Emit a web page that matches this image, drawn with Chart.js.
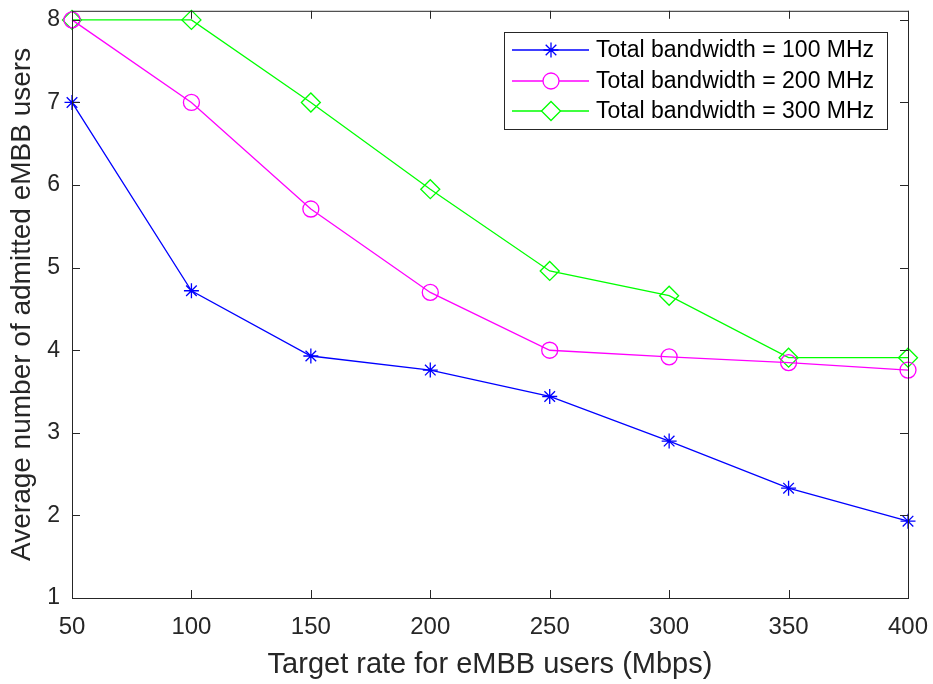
<!DOCTYPE html>
<html>
<head>
<meta charset="utf-8">
<script src="https://cdn.jsdelivr.net/npm/chart.js@4"></script>
<style>
  html, body { margin: 0; padding: 0; background: #fff; }
  #wrap { width: 933px; height: 684px; }
</style>
</head>
<body>
<div id="wrap"><canvas id="chart" width="933" height="684"></canvas></div>
<script>
// --- dados ---
const targetRates = [50, 100, 150, 200, 250, 300, 350, 400];
const bw100 = [7.0, 4.72, 3.93, 3.76, 3.44, 2.90, 2.33, 1.93];
const bw200 = [8.0, 7.0, 5.71, 4.70, 4.0, 3.92, 3.85, 3.76];
const bw300 = [8.0, 8.0, 7.0, 5.95, 4.96, 4.66, 3.91, 3.91];
const seriesNames = ['Total bandwidth = 100 MHz', 'Total bandwidth = 200 MHz', 'Total bandwidth = 300 MHz'];
const xTicks = [50, 100, 150, 200, 250, 300, 350, 400];
const yTicks = [1, 2, 3, 4, 5, 6, 7, 8];

const axisColor = '#262626';
const fontFamily = '"Liberation Sans", Arial, Helvetica, sans-serif';

function toPoints(values) {
    return targetRates.map((x, i) => ({ x: x, y: values[i] }));
}

// estilo de cada série (cor + marcador)
const styles = [
    { color: '#0000ff', marker: 'star', radius: 7.5 },
    { color: '#ff00ff', marker: 'circle', radius: 8 },
    { color: '#00ff00', marker: 'rectRot', radius: 9.5 }
];

const datasets = [bw100, bw200, bw300].map((vals, i) => ({
    label: seriesNames[i],
    data: toPoints(vals),
    borderColor: styles[i].color,
    backgroundColor: 'rgba(0,0,0,0)',
    borderWidth: 1.3,
    pointStyle: styles[i].marker,
    pointRadius: styles[i].radius,
    pointBorderWidth: 1.3,
    pointBorderColor: styles[i].color,
    pointBackgroundColor: 'rgba(0,0,0,0)',
    clip: false,
    tension: 0
}));

// caixa dos eixos com ticks para dentro (estilo MATLAB)
const boxPlugin = {
    id: 'matlabBox',
    afterDraw(chart) {
        const ctx = chart.ctx;
        const a = chart.chartArea;
        const xs = chart.scales.x, ys = chart.scales.y;
        const tick = 8;
        ctx.save();
        ctx.strokeStyle = axisColor;
        ctx.lineWidth = 1;
        ctx.strokeRect(a.left + 0.5, a.top + 0.5, a.right - a.left, a.bottom - a.top);
        ctx.beginPath();
        xTicks.forEach(v => {
            const px = Math.round(xs.getPixelForValue(v)) + 0.5;
            ctx.moveTo(px, a.bottom); ctx.lineTo(px, a.bottom - tick);
            ctx.moveTo(px, a.top); ctx.lineTo(px, a.top + tick);
        });
        yTicks.forEach(v => {
            const py = Math.round(ys.getPixelForValue(v)) + 0.5;
            ctx.moveTo(a.left, py); ctx.lineTo(a.left + tick, py);
            ctx.moveTo(a.right, py); ctx.lineTo(a.right - tick, py);
        });
        ctx.stroke();
        ctx.restore();
    }
};

// legenda dentro do gráfico, canto superior direito
const legendPlugin = {
    id: 'insideLegend',
    afterDraw(chart) {
        const ctx = chart.ctx;
        const left = 504, top = 32, w = 383, h = 97;
        const rowY = [50, 81, 111];
        ctx.save();
        ctx.fillStyle = '#fff';
        ctx.fillRect(left, top, w, h);
        ctx.strokeStyle = axisColor;
        ctx.lineWidth = 1;
        ctx.strokeRect(left + 0.5, top + 0.5, w, h);
        chart.data.datasets.forEach((ds, i) => {
            const y = rowY[i];
            ctx.strokeStyle = ds.borderColor;
            ctx.lineWidth = 1.3;
            ctx.beginPath();
            ctx.moveTo(512, y); ctx.lineTo(589, y);
            ctx.stroke();
            ctx.fillStyle = '#ffffff';
            Chart.helpers.drawPoint(ctx, {
                pointStyle: ds.pointStyle,
                radius: ds.pointRadius,
                borderWidth: 1.3,
                rotation: 0
            }, 551, y);
            ctx.fillStyle = '#000';
            ctx.font = '23px ' + fontFamily;
            ctx.textBaseline = 'middle';
            ctx.textAlign = 'left';
            ctx.fillText(ds.label, 596, y + 1);
        });
        ctx.restore();
    }
};

const chart = new Chart(document.getElementById('chart').getContext('2d'), {
    type: 'line',
    data: { datasets: datasets },
    options: {
        responsive: false,
        animation: false,
        layout: { padding: { top: 10, right: 25, left: 0, bottom: 0 } },
        plugins: {
            legend: { display: false },
            tooltip: { enabled: false }
        },
        scales: {
            x: {
                type: 'linear',
                min: 50,
                max: 400,
                afterBuildTicks: s => { s.ticks = xTicks.map(v => ({ value: v })); },
                afterFit: s => { s.height = 86; s.paddingLeft = 0; s.paddingRight = 0; },
                grid: { display: false, drawTicks: false },
                border: { display: false },
                ticks: {
                    color: axisColor,
                    padding: 15,
                    font: { family: fontFamily, size: 24 },
                    maxRotation: 0
                },
                title: {
                    display: true,
                    text: 'Target rate for eMBB users (Mbps)',
                    color: axisColor,
                    font: { family: fontFamily, size: 29 },
                    padding: { top: 0, bottom: 2 }
                }
            },
            y: {
                type: 'linear',
                min: 1,
                max: 8.11,
                afterBuildTicks: s => { s.ticks = yTicks.map(v => ({ value: v })); },
                afterFit: s => { s.width = 72; s.paddingTop = 0; s.paddingBottom = 0; },
                grid: { display: false, drawTicks: false },
                border: { display: false },
                ticks: {
                    color: axisColor,
                    padding: 12,
                    font: { family: fontFamily, size: 23 }
                },
                title: {
                    display: true,
                    text: 'Average number of admitted eMBB users',
                    color: axisColor,
                    font: { family: fontFamily, size: 28 },
                    padding: { top: 5, bottom: 0 }
                }
            }
        }
    },
    plugins: [boxPlugin, legendPlugin]
});
</script>
</body>
</html>
